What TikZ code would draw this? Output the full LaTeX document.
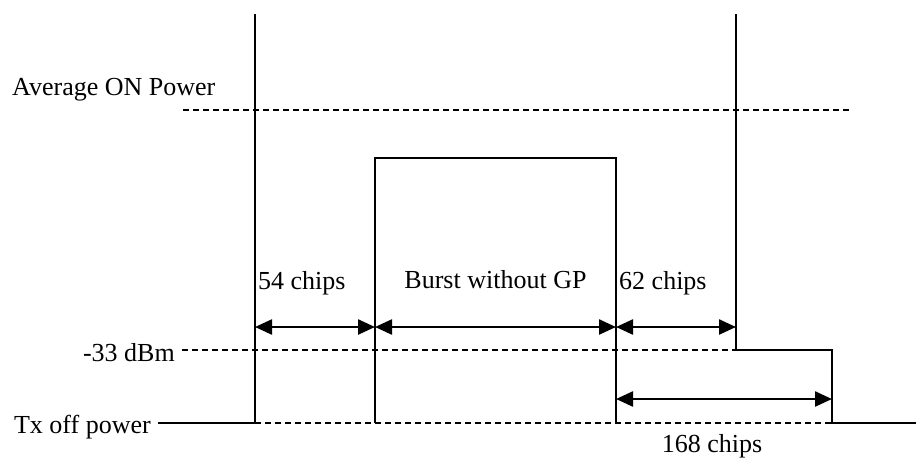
\documentclass[tikz,border=0pt]{standalone}
\usepackage{fontspec}
\setmainfont{Liberation Serif}
\usetikzlibrary{arrows.meta}
\begin{document}
\begin{tikzpicture}[x=1pt,y=-1pt,
  lbl/.style={inner sep=0pt, font=\fontsize{26}{30}\selectfont},
  tallline/.style={line width=1.8pt},
  sigline/.style={line width=2.2pt},
  dimarrow/.style={{Triangle[length=17pt,width=15pt]}-{Triangle[length=17pt,width=15pt]}, line width=2.4pt},
  dashline/.style={dash pattern=on 6pt off 4pt, line width=1.6pt}]
\useasboundingbox (0,0) rectangle (916,459);
\fill[white] (0,0) rectangle (916,459);
% coordinates
\coordinate (Ltop) at (255,14);
\coordinate (Lbot) at (255,423);
\coordinate (Rtop) at (736,14);
\coordinate (Rstep) at (736,350);
\coordinate (Rend) at (832,350);
\coordinate (Rdown) at (832,423);
\coordinate (Rright) at (916,423);
\coordinate (B1) at (375,423);
\coordinate (B2) at (375,158);
\coordinate (B3) at (616,158);
\coordinate (B4) at (616,423);
\coordinate (Offl) at (158,423);
\coordinate (Avl) at (183,110);
\coordinate (Avr) at (851,110);
\coordinate (Dbl) at (182,350);
% arrow ends
\coordinate (a1) at (255,327);
\coordinate (a2) at (375,327);
\coordinate (a3) at (616,327);
\coordinate (a4) at (736,327);
\coordinate (b1) at (616,399);
\coordinate (b2) at (832,399);
% labels
\node[lbl, anchor=base west] (avg) at (12,95) {Average ON Power};
\node[lbl, anchor=base east] (dbm) at (175,361) {-33 dBm};
\node[lbl, anchor=base east] (txoff) at (151,433) {Tx off power};
\node[lbl, anchor=base west] (c54) at (258,289) {54 chips};
\node[lbl, anchor=base] (burst) at (495.5,288) {Burst without GP};
\node[lbl, anchor=base] (c168) at (712,452) {168 chips};
\node[lbl, anchor=base west] (c62) at (619,289) {62 chips};
% dashed levels
\draw[dashline] (Avl) -- (Avr);
\draw[dashline] (Dbl) -- (Rstep);
\draw[dashline] (Lbot) -- (Rdown);
% tall lines
\draw[tallline] (Ltop) -- (Lbot);
\draw[tallline] (Rtop) -- (Rstep);
% signal
\draw[sigline] (Offl) -- (Lbot);
\draw[sigline] (B1) -- (B2) -- (B3) -- (B4);
\draw[sigline] (Rstep) -- (Rend) -- (Rdown) -- (Rright);
% dimension arrows
\draw[dimarrow] (a1) -- (a2);
\draw[dimarrow] (a2) -- (a3);
\draw[dimarrow] (a3) -- (a4);
\draw[dimarrow] (b1) -- (b2);
\end{tikzpicture}
\end{document}
